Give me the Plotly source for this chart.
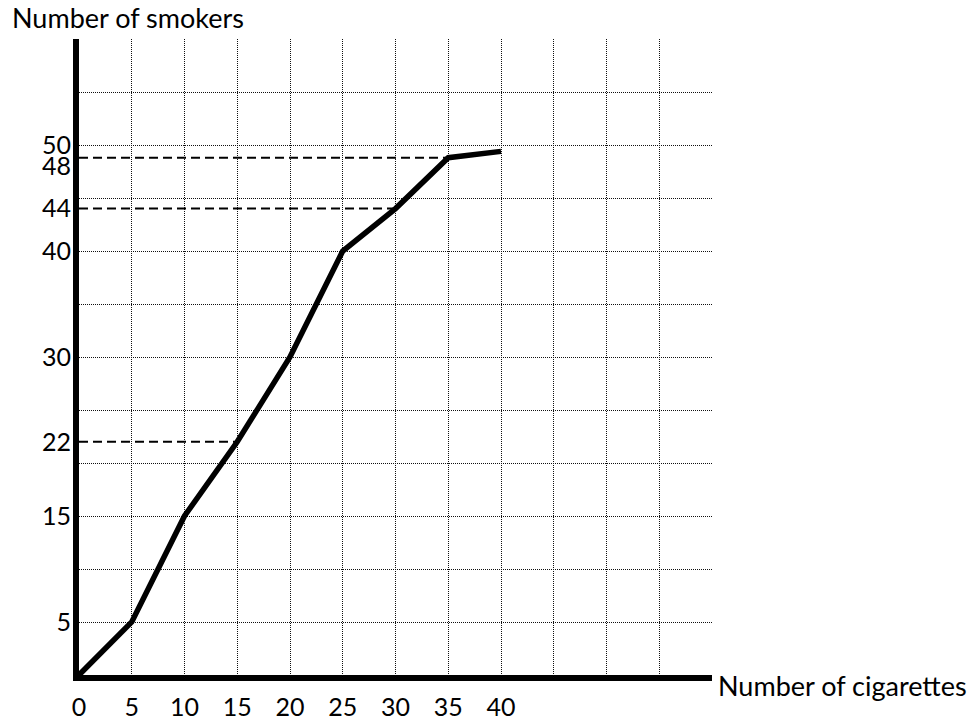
import plotly.graph_objects as go

# ---- data ----
cigarettes = [0, 5, 10, 15, 20, 25, 30, 35, 40]
smokers = [0, 5, 15, 22, 30, 40, 44, 48.8, 49.4]
guide_x = [15, 30, 35]

x_grid_vals = list(range(0, 61, 5))
x_tick_text = ["0", "5", "10", "15", "20", "25", "30", "35", "40", "", "", "", ""]
y_grid_vals = list(range(0, 61, 5))
y_label_vals = [5, 15, 22, 30, 40, 44, 48, 50]
y_label_text = ["5", "15", "22", "30", "40", "44", "48", "50"]

FONT = "Lato"
GRID_COLOR = "#111111"
LABEL_SIZE = 25
TITLE_SIZE = 27

W, H = 974, 723

fig = go.Figure()

for gx in guide_x:
    i = cigarettes.index(gx)
    fig.add_trace(go.Scatter(
        x=[0, cigarettes[i]], y=[smokers[i], smokers[i]],
        mode="lines", line=dict(color="black", width=2, dash="9px,5px"),
        showlegend=False, hoverinfo="skip"))

fig.add_trace(go.Scatter(
    x=cigarettes, y=smokers, mode="lines",
    line=dict(color="black", width=5.5),
    showlegend=False, hoverinfo="skip"))

# invisible trace to anchor the label axis
fig.add_trace(go.Scatter(x=[0], y=[0], yaxis="y2", mode="markers",
                         marker=dict(opacity=0), showlegend=False, hoverinfo="skip"))

fig.update_layout(
    template="none",
    width=W, height=H,
    margin=dict(l=79, r=262, t=39, b=48, autoexpand=False),
    paper_bgcolor="white", plot_bgcolor="white",
    hovermode=False,
    showlegend=False,
    font=dict(family=FONT, color="black", size=LABEL_SIZE),
    title=dict(text="Number of smokers", xref="container", yref="container",
               x=12 / W, xanchor="left", y=1 - 19 / H, yanchor="middle",
               font=dict(family=FONT, size=TITLE_SIZE, color="black")),
    xaxis=dict(range=[0, 60], tickmode="array", tickvals=x_grid_vals,
               ticktext=x_tick_text, showgrid=True, gridcolor=GRID_COLOR,
               gridwidth=1, griddash="1px,1px", zeroline=False,
               showline=True, linewidth=6, linecolor="black", ticks="",
               automargin=False,
               ticklabelstandoff=5, tickfont=dict(family=FONT, size=LABEL_SIZE)),
    yaxis=dict(range=[0, 60], tickmode="array", tickvals=y_grid_vals,
               showticklabels=False, showgrid=True, gridcolor=GRID_COLOR,
               gridwidth=1, griddash="1px,1px", zeroline=False,
               automargin=False,
               showline=True, linewidth=6, linecolor="black", ticks=""),
    yaxis2=dict(range=[0, 60], overlaying="y", side="left", tickmode="array",
                tickvals=y_label_vals, ticktext=y_label_text, showgrid=False,
                zeroline=False, showline=False, ticks="", automargin=False,
                ticklabelstandoff=7, tickfont=dict(family=FONT, size=LABEL_SIZE)),
    annotations=[dict(text="Number of cigarettes", xref="paper", yref="paper",
                      x=1, y=0, xanchor="left", yanchor="middle",
                      xshift=4, yshift=-10, showarrow=False,
                      font=dict(family=FONT, size=TITLE_SIZE, color="black"))],
)

fig.write_html(
    "out.html",
    config={"displayModeBar": False, "staticPlot": True},
    post_script="document.body.style.margin='0';document.body.style.overflow='hidden';",
)
